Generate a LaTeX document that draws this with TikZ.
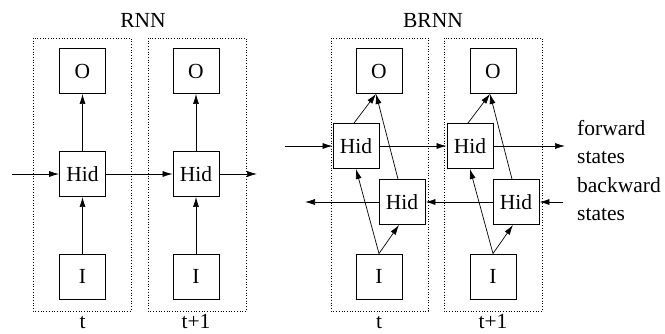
\documentclass[tikz,border=0pt]{standalone}
\usepackage{fontspec}
\setmainfont{Liberation Serif}
\usetikzlibrary{arrows.meta}
\begin{document}
\begin{tikzpicture}[x=1pt,y=-1pt,
  cell/.style={draw,line width=0.9pt,minimum width=46pt,minimum height=45pt,inner sep=0pt,font=\fontsize{21.5}{24}\selectfont},
  frame/.style={draw,dotted,line width=0.7pt},
  conn/.style={line width=0.7pt,-{Latex[length=10pt,width=6pt]}},
  lbl/.style={font=\fontsize{21.5}{24}\selectfont,inner sep=0pt}]
\useasboundingbox (0,0) rectangle (665,333);
% RNN frames
\draw[frame] (33,38) rectangle (131,311);
\draw[frame] (148,38) rectangle (246,311);
\node[lbl] (rnn) at (143,20) {RNN};
\node[cell] (O1) at (82.5,71) {O};
\node[cell] (H1) at (82.5,174) {Hid};
\node[cell] (I1) at (82.5,276.5) {I};
\node[cell] (O2) at (196,71) {O};
\node[cell] (H2) at (196,174) {Hid};
\node[cell] (I2) at (196,276.5) {I};
\coordinate (rin) at (12,174);
\coordinate (rout) at (257,174);
\draw[conn] (rin) -- (H1);
\draw[conn] (H1) -- (H2);
\draw[conn] (H2) -- (rout);
\draw[conn] (I1) -- (H1);
\draw[conn] (H1) -- (O1);
\draw[conn] (I2) -- (H2);
\draw[conn] (H2) -- (O2);
\node[lbl,anchor=base] (t1) at (82.5,328) {t};
\node[lbl,anchor=base] (t2) at (196,328) {t+1};
% BRNN
\draw[frame] (331,38) rectangle (428,311);
\draw[frame] (444,38) rectangle (542,311);
\node[lbl] (brnn) at (433,20) {BRNN};
\node[cell] (BO1) at (379,71) {O};
\node[cell] (F1) at (356,146) {Hid};
\node[cell] (B1) at (402,202) {Hid};
\node[cell] (BI1) at (379,276.5) {I};
\node[cell] (BO2) at (493,71) {O};
\node[cell] (F2) at (470,146) {Hid};
\node[cell] (B2) at (516,202) {Hid};
\node[cell] (BI2) at (493,276.5) {I};
\coordinate (fin) at (285,146);
\coordinate (fout) at (565,146);
\coordinate (bin) at (563,202);
\coordinate (bout) at (305,202);
\draw[conn] (fin) -- (F1);
\draw[conn] (F1) -- (F2);
\draw[conn] (F2) -- (fout);
\draw[conn] (bin) -- (B2);
\draw[conn] (B2) -- (B1);
\draw[conn] (B1) -- (bout);
\foreach \i in {1,2}{
  \draw[conn] (BI\i.north) -- (F\i.south);
  \draw[conn] (BI\i.north) -- ([xshift=-3pt]B\i.south);
  \draw[conn] ([xshift=-2pt]F\i.north) -- ([xshift=-3pt]BO\i.south);
  \draw[conn] ([xshift=-4pt]B\i.north) -- ([xshift=-3pt]BO\i.south);
}
\node[lbl,anchor=base west] (fw1) at (577,135) {forward};
\node[lbl,anchor=base west] (fw2) at (577,163) {states};
\node[lbl,anchor=base west] (bw1) at (577,192) {backward};
\node[lbl,anchor=base west] (bw2) at (577,220) {states};
\node[lbl,anchor=base] (bt1) at (379,328) {t};
\node[lbl,anchor=base] (bt2) at (493,328) {t+1};
\end{tikzpicture}
\end{document}
